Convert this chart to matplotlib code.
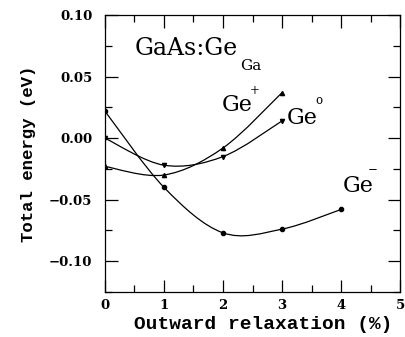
import numpy as np
import matplotlib
matplotlib.use("Agg")
import matplotlib.pyplot as plt
from matplotlib.path import Path
import matplotlib.patches as mpatches

# data
x_minus = [0, 1, 2, 3, 4]
e_minus = [0.022, -0.040, -0.077, -0.074, -0.058]
x_plus = [0, 1, 2, 3]
e_plus = [-0.023, -0.030, -0.008, 0.037]
x_zero = [0, 1, 2, 3]
e_zero = [0.000, -0.022, -0.015, 0.014]

ytick_vals = [-0.10, -0.05, 0.00, 0.05, 0.10]
ytick_labs = ["\u22120.10", "\u22120.05", "0.00", "0.05", "0.10"]


def smooth_path(xs, ys):
    # Catmull-Rom als kubische Bezier-Segmente durch die Datenpunkte
    pts = np.column_stack([xs, ys]).astype(float)
    verts = [pts[0]]
    codes = [Path.MOVETO]
    n = len(pts)
    for i in range(n - 1):
        p0 = pts[max(i - 1, 0)]
        p1 = pts[i]
        p2 = pts[i + 1]
        p3 = pts[min(i + 2, n - 1)]
        c1 = p1 + (p2 - p0) / 6.0
        c2 = p2 - (p3 - p1) / 6.0
        verts += [c1, c2, p2]
        codes += [Path.CURVE4] * 3
    return Path(verts, codes)


fig = plt.figure(figsize=(4.05, 3.37), dpi=100)
ax = fig.add_axes([0.259, 0.134, 0.729, 0.821])

for xs, ys, mk in [(x_minus, e_minus, "o"),
                   (x_plus, e_plus, "^"),
                   (x_zero, e_zero, "v")]:
    ax.add_patch(mpatches.PathPatch(smooth_path(xs, ys), fc="none",
                                    ec="black", lw=0.9))
    ax.plot(xs, ys, ls="none", marker=mk, ms=3.0, color="black")

ax.set_xlim(0, 5)
ax.set_ylim(-0.125, 0.10)
ax.set_xticks(np.arange(0, 6, 1))
ax.set_xticks(np.arange(0, 5.01, 0.5), minor=True)
ax.set_yticks(ytick_vals)
ax.set_yticks(np.arange(-0.125, 0.101, 0.025), minor=True)
ax.set_yticklabels(ytick_labs)
ax.tick_params(which="both", direction="in", top=True, right=True,
               width=0.9, color="black")
ax.tick_params(which="major", length=9)
ax.tick_params(which="minor", length=5)
ax.tick_params(axis="y", pad=9)
ax.tick_params(axis="x", pad=5)
for lab in ax.get_xticklabels() + ax.get_yticklabels():
    lab.set_family("DejaVu Serif")
    lab.set_weight("bold")
    lab.set_fontsize(9.5)
for sp in ax.spines.values():
    sp.set_linewidth(0.9)

ax.set_xlabel("Outward relaxation (%)", family="Liberation Mono",
              weight="bold", fontsize=14)
ax.set_ylabel("Total energy (eV)", family="Liberation Mono",
              weight="bold", fontsize=12.5)
ax.xaxis.set_label_coords(0.537, -0.088)
ax.yaxis.set_label_coords(-0.232, 0.5)

# Beschriftungen (Hoch-/Tiefstellung als eigene, kleine Texte)
serif = dict(family="DejaVu Serif", color="black")
t_main = ax.text(0.51, 0.0677, "GaAs:Ge", fontsize=17, va="baseline",
                 ha="left", **serif)
ax.annotate("Ga", xy=(1, 0), xycoords=t_main, xytext=(1.5, -7.5),
            textcoords="offset points", fontsize=11, va="baseline",
            ha="left", **serif)

for x0, y0, sup, dx, dy in [(1.98, 0.0218, "+", 1.5, 3.0),
                            (3.08, 0.0113, "o", 1.0, 5.0),
                            (4.03, -0.0435, "\u2212", -1.0, 4.5)]:
    t = ax.text(x0, y0, "Ge", fontsize=16, va="baseline", ha="left", **serif)
    ax.annotate(sup, xy=(1, 1), xycoords=t, xytext=(dx, dy),
                textcoords="offset points", fontsize=8.5, va="center",
                ha="center", **serif)

fig.savefig("out.png", dpi=100)
